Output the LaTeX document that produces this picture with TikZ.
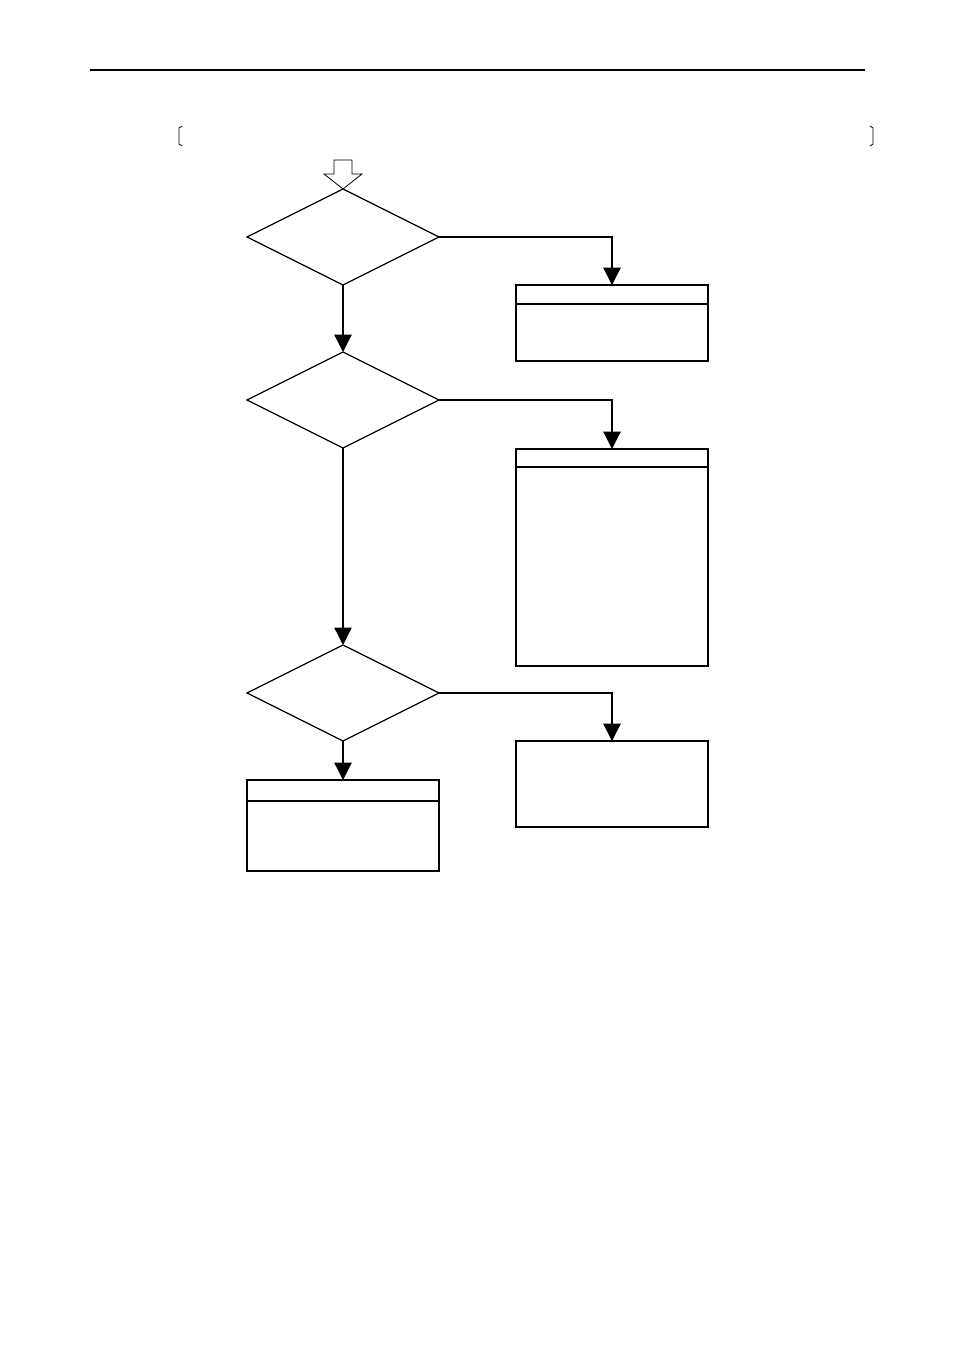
\documentclass[tikz,border=0pt]{standalone}
\usetikzlibrary{arrows.meta}
\begin{document}
\begin{tikzpicture}[x=0.75pt,y=-0.75pt,
  ln/.style={line width=0.9pt},
  arr/.style={ln,-{Triangle[length=13pt,width=13pt]}},
  box/.style={ln,draw}]
\useasboundingbox (0,0) rectangle (954,1350);
\draw[line width=2.2pt] (90,70) -- (865,70);
\draw[line width=0.6pt] (182,126) -- (179,128) -- (179,144) -- (182,146);
\draw[line width=0.6pt] (870,126) -- (873,128) -- (873,144) -- (870,146);
% open arrow
\draw[line width=0.6pt] (334,160) -- (352,160) -- (352,174) -- (362,174) -- (343,189) -- (324,174) -- (334,174) -- cycle;
% diamonds
\foreach \n/\y in {d1/237,d2/400,d3/693}{
  \draw[ln] (247,\y) -- (343,\y-48) -- (439,\y) -- (343,\y+48) -- cycle;
  \coordinate (\n t) at (343,\y-48);
  \coordinate (\n b) at (343,\y+48);
  \coordinate (\n r) at (439,\y);
}
% boxes
\draw[box] (516,285) rectangle (708,361); \draw[line width=1.4pt] (516,304) -- (708,304);
\draw[box] (516,449) rectangle (708,666); \draw[ln] (516,467) -- (708,467);
\draw[box] (516,741) rectangle (708,827);
\draw[box] (247,780) rectangle (439,871); \draw[line width=1.4pt] (247,801) -- (439,801);
\coordinate (b1) at (612,285);
\coordinate (b2) at (612,449);
\coordinate (b3) at (612,741);
\coordinate (b4) at (343,780);
\draw[arr] (d1r) -| (b1);
\draw[arr] (d2r) -| (b2);
\draw[arr] (d3r) -| (b3);
\draw[arr] (d1b) -- (d2t);
\draw[arr] (d2b) -- (d3t);
\draw[arr] (d3b) -- (b4);
\end{tikzpicture}
\end{document}
